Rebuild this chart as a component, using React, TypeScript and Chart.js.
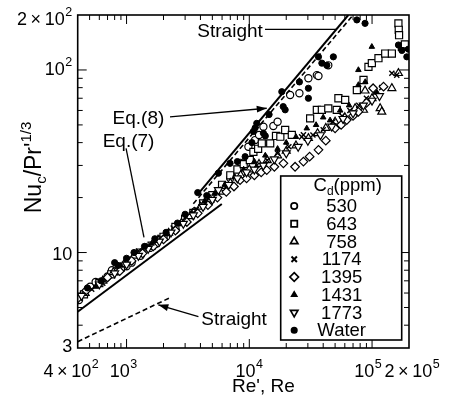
import React, { useEffect, useRef } from 'react';
import { Chart, registerables } from 'chart.js';

Chart.register(...registerables);

type P = [number, number];

// ---- axis ticks ----
const xTickValues = [400, 1000, 10000, 100000, 200000];
const xTickBase = ['4\u2009×\u200910', '10', '10', '10', '2\u2009×\u200910'];
const xTickExp = ['2', '3', '4', '5', '5'];
const yTickValues = [3, 10, 100, 200];
const yTickBase = ['3', '10', '10', '2\u2009×\u200910'];
const yTickExp = ['', '', '2', '2'];
const xMajorMarks = [1000, 10000, 100000];
const xMinorMarks = [500, 600, 700, 800, 900, 2000, 3000, 4000, 5000, 6000, 7000, 8000, 9000,
  20000, 30000, 40000, 50000, 60000, 70000, 80000, 90000];
const yMajorMarks = [10, 100];
const yMinorMarks = [4, 5, 6, 7, 8, 9, 20, 30, 40, 50, 60, 70, 80, 90];

// label placement tweaks (pixels)
const xLabelShift = [-6.7, -3, 0, -4, 3];
const yLabelDrop = [4, 7, 5.5, 10];

// ---- series (Re, Nu_c/Pr'^1/3) ----
const seriesNames = ['530', '643', '758', '1174', '1395', '1431', '1773', 'Water'];

const s530: P[] = [[410, 5.5], [505, 6.5], [560, 6.9], [700, 7.4], [760, 8.0], [850, 7.9], [1000, 8.4], [1100, 8.8],
  [1300, 9.6], [1550, 10.6], [1760, 11.2], [2100, 12.2], [2500, 13.3], [3000, 14.8], [3600, 16.8], [4200, 18.3],
  [5000, 20.2], [6000, 22.8], [7000, 25.5], [8500, 31], [9830, 38], [11150, 41.3], [12000, 44], [13030, 48.9],
  [15700, 49.3], [17000, 52], [21500, 72.9], [25600, 74.5], [30300, 90], [35500, 93.7], [36600, 92.7], [44000, 106]];

const s643: P[] = [[450, 5.9], [600, 6.8], [750, 7.6], [900, 8.3], [1050, 9.0], [1300, 10.0], [1600, 10.9], [2000, 12.2],
  [2500, 13.8], [3000, 15.3], [3500, 16.5], [4200, 18.6], [5000, 20.6], [6000, 23.5], [7000, 26.5], [8000, 28.5],
  [9000, 30.5], [10100, 32.1], [10800, 35.6], [11800, 37], [12640, 39.6], [14800, 39.6], [16500, 43.5], [17900, 43.1],
  [19600, 46.9], [22200, 44.1], [31300, 54.3], [35500, 60.4], [39000, 60.5], [44000, 61.6], [51600, 60.4], [53200, 70],
  [60400, 68.6], [75200, 77.6], [85200, 88.1], [93500, 104], [99600, 109], [112800, 116], [128000, 123], [145000, 123],
  [164000, 180], [165000, 166], [166000, 155], [175000, 134], [185000, 138]];

const s758: P[] = [[460, 6.0], [640, 7.0], [780, 7.8], [950, 8.6], [1150, 9.6], [1400, 10.5], [1800, 11.7], [2200, 12.8],
  [2800, 14.5], [3300, 15.8], [4000, 17.8], [4800, 19.5], [5800, 21.5], [7000, 24], [8500, 26.5], [10000, 28.5],
  [12000, 30.5], [14000, 32], [17000, 34], [20000, 36], [24000, 38.5], [30300, 42.3], [36000, 45], [42000, 48],
  [50000, 52], [60000, 55], [72800, 61.6], [85200, 60.4], [87700, 77], [100000, 70], [116400, 61.6], [120000, 59],
  [145000, 79.4], [164000, 96]];

const s1174: P[] = [[520, 6.3], [640, 6.8], [1000, 9.2], [1250, 10.2], [1500, 10.9], [1900, 12.1], [2400, 13.6],
  [3000, 15.5], [3700, 17.2], [4500, 19.2], [5500, 21.5], [6500, 23], [8000, 25.5], [9500, 27.5], [11500, 30],
  [14000, 32], [17000, 35], [21000, 38], [26700, 43], [27600, 44.1], [33000, 44], [40000, 47], [48000, 52],
  [57000, 56], [66000, 60], [78000, 64], [90000, 70], [105000, 75], [120000, 80], [145000, 96], [159000, 93.7]];

const s1395: P[] = [[400, 5.6], [470, 6.2], [700, 7.3], [880, 7.9], [1100, 9.0], [1350, 9.9], [1650, 10.8], [2000, 11.8],
  [2500, 13.2], [3100, 14.7], [3800, 16.4], [4600, 18.2], [5500, 20], [6500, 21.5], [7500, 23], [8410, 24.9],
  [9500, 25.5], [11000, 26.5], [12500, 27.5], [13870, 28.3], [16000, 29.5], [18960, 30.8], [23600, 29.5], [27600, 31.5],
  [31000, 33.5], [36600, 36.5], [42000, 41], [50000, 47.9], [56000, 50], [62200, 53.2], [70000, 56], [77400, 59],
  [90000, 66], [102000, 79.4], [124000, 81]];

const s1431: P[] = [[560, 6.5], [900, 8.5], [1200, 9.9], [1600, 11.2], [2100, 12.6], [2700, 14.3], [3400, 16.5],
  [4300, 19], [5200, 21], [6300, 23.5], [7600, 26], [9000, 28.5], [11000, 31.5], [13500, 34], [17000, 37], [20000, 40],
  [24000, 43], [29400, 47.9], [35000, 50], [40000, 55], [45500, 53], [55000, 60], [65000, 64], [77400, 100],
  [77400, 82.8], [88000, 86], [99600, 134], [110000, 75]];

const s1773: P[] = [[430, 5.8], [600, 6.7], [800, 7.7], [1000, 8.6], [1250, 9.6], [1500, 10.5], [1850, 11.5],
  [2300, 12.9], [2900, 14.4], [3500, 16], [4200, 17.8], [5000, 19.5], [5600, 22], [6800, 23.5], [8000, 25.5],
  [9500, 27.5], [11000, 28.5], [13000, 30], [16000, 32.5], [20000, 35], [25000, 38], [30000, 41], [38000, 44],
  [47000, 49], [58000, 54], [70000, 58], [85000, 64], [100000, 68], [115000, 72]];

const sWater: P[] = [[480, 6.4], [620, 7.0], [800, 8.8], [850, 8.5], [1000, 9.3], [1150, 10.0], [1400, 10.8],
  [1700, 11.9], [2100, 12.9], [2600, 14.5], [3000, 16.2], [3800, 21.3], [4500, 20.5], [5600, 27.2], [6970, 30.8],
  [8000, 31.5], [9250, 33.5], [10500, 40], [10800, 46], [11150, 48.1], [11500, 51], [13030, 45], [13500, 43.5],
  [14500, 57], [18400, 76], [18900, 63], [19600, 60.5], [25600, 86], [30300, 70], [30300, 79.4], [36600, 118],
  [39000, 109], [42800, 106], [48400, 118], [75200, 188], [87700, 180], [164000, 137], [175000, 128], [192000, 118],
  [198000, 130]];

// ---- correlation lines (end points) ----
const eq7Line: P[] = [[400, 4.74], [5970, 18.45]];
const eq8Line: P[] = [[4000, 21.7], [64100, 200]];
const straightTurbLine: P[] = [[3500, 18.5], [70150, 200]];
const straightLamLine: P[] = [[400, 3.25], [2261, 5.66]];

const seriesData: P[][] = [s530, s643, s758, s1174, s1395, s1431, s1773, sWater];

// marker styles
const markerStyles = [
  { pointStyle: 'circle', radius: 3.6, fill: '#fff', bw: 1.2, rot: 0 },
  { pointStyle: 'rect', radius: 5, fill: '#fff', bw: 1.2, rot: 0 },
  { pointStyle: 'triangle', radius: 4.6, fill: '#fff', bw: 1.2, rot: 0 },
  { pointStyle: 'crossRot', radius: 3.6, fill: '#000', bw: 1.4, rot: 0 },
  { pointStyle: 'rectRot', radius: 4.3, fill: '#fff', bw: 1.2, rot: 0 },
  { pointStyle: 'triangle', radius: 3.2, fill: '#000', bw: 1, rot: 0 },
  { pointStyle: 'triangle', radius: 4.6, fill: '#fff', bw: 1.2, rot: 180 },
  { pointStyle: 'circle', radius: 3.1, fill: '#000', bw: 1, rot: 0 },
];

const FONT = '"Liberation Sans", Arial, Helvetica, sans-serif';

const annotations = [
  { text: 'Straight', at: [6970, 162], from: [13430, 167], to: [51700, 167], head: false },
  { text: 'Eq.(8)', at: [1250, 54.3], from: [2260, 55.4], to: [13870, 61.7], head: true },
  { text: 'Eq.(7)', at: [1038, 40.4], from: [991, 37.2], to: [1387, 12.1], head: false },
  { text: 'Straight', at: [7520, 4.31], from: [3850, 4.46], to: [1815, 5.17], head: true },
];

function drawArrow(ctx: CanvasRenderingContext2D, x1: number, y1: number, x2: number, y2: number, head: boolean) {
  ctx.beginPath();
  ctx.moveTo(x1, y1);
  ctx.lineTo(x2, y2);
  ctx.stroke();
  if (head) {
    const a = Math.atan2(y2 - y1, x2 - x1);
    const L = 10, W = 3.5;
    ctx.beginPath();
    ctx.moveTo(x2, y2);
    ctx.lineTo(x2 - L * Math.cos(a) + W * Math.sin(a), y2 - L * Math.sin(a) - W * Math.cos(a));
    ctx.lineTo(x2 - L * Math.cos(a) - W * Math.sin(a), y2 - L * Math.sin(a) + W * Math.cos(a));
    ctx.closePath();
    ctx.fill();
  }
}

function drawMarker(ctx: CanvasRenderingContext2D, i: number, x: number, y: number) {
  const m = markerStyles[i];
  const r = m.radius;
  ctx.save();
  ctx.lineWidth = 1.7;
  ctx.fillStyle = m.fill;
  ctx.strokeStyle = '#000';
  ctx.beginPath();
  if (m.pointStyle === 'circle') {
    ctx.arc(x, y, r - 0.4, 0, Math.PI * 2);
  } else if (m.pointStyle === 'rect') {
    const s = r * Math.SQRT1_2 - 0.4;
    ctx.rect(x - s, y - s, 2 * s, 2 * s);
  } else if (m.pointStyle === 'triangle') {
    const dir = m.rot === 180 ? -1 : 1;
    const rr = r - 0.3;
    ctx.moveTo(x, y - dir * rr);
    ctx.lineTo(x + rr * 0.866, y + dir * rr * 0.5);
    ctx.lineTo(x - rr * 0.866, y + dir * rr * 0.5);
    ctx.closePath();
  } else if (m.pointStyle === 'rectRot') {
    ctx.moveTo(x, y - r);
    ctx.lineTo(x + r, y);
    ctx.lineTo(x, y + r);
    ctx.lineTo(x - r, y);
    ctx.closePath();
  } else if (m.pointStyle === 'crossRot') {
    const s = r * 0.75;
    ctx.moveTo(x - s, y - s); ctx.lineTo(x + s, y + s);
    ctx.moveTo(x + s, y - s); ctx.lineTo(x - s, y + s);
    ctx.lineWidth = 2;
    ctx.stroke();
    ctx.restore();
    return;
  }
  ctx.fill();
  ctx.stroke();
  ctx.restore();
}

// draws "base" followed by a raised exponent; anchor 'center' or 'right'
function drawPow(ctx: CanvasRenderingContext2D, base: string, exp: string, x: number, baseline: number, anchor: string) {
  const bf = `18px ${FONT}`;
  const sf = `12.5px ${FONT}`;
  ctx.font = bf;
  const wb = ctx.measureText(base).width;
  ctx.font = sf;
  const we = exp ? ctx.measureText(exp).width + 0.5 : 0;
  const total = wb + we;
  const left = anchor === 'right' ? x - total : x - total / 2;
  ctx.textAlign = 'left';
  ctx.textBaseline = 'alphabetic';
  ctx.font = bf;
  ctx.fillText(base, left, baseline);
  if (exp) {
    ctx.font = sf;
    ctx.fillText(exp, left + wb + 0.5, baseline - 9);
  }
}

const decoPlugin = {
  id: 'deco',
  afterDraw(chart: any) {
    const ctx: CanvasRenderingContext2D = chart.ctx;
    const ca = chart.chartArea;
    const xs = chart.scales.x;
    const ys = chart.scales.y;
    const px = (v: number) => xs.getPixelForValue(v);
    const py = (v: number) => ys.getPixelForValue(v);
    ctx.save();
    ctx.strokeStyle = '#000';
    ctx.fillStyle = '#000';

    // frame
    ctx.lineWidth = 1.6;
    ctx.strokeRect(ca.left, ca.top, ca.right - ca.left, ca.bottom - ca.top);

    // inward ticks on all four sides
    ctx.lineWidth = 1;
    const tickX = (v: number, len: number) => {
      const x = px(v);
      ctx.beginPath();
      ctx.moveTo(x, ca.bottom); ctx.lineTo(x, ca.bottom - len);
      ctx.moveTo(x, ca.top); ctx.lineTo(x, ca.top + len);
      ctx.stroke();
    };
    const tickY = (v: number, len: number) => {
      const y = py(v);
      ctx.beginPath();
      ctx.moveTo(ca.left, y); ctx.lineTo(ca.left + len, y);
      ctx.moveTo(ca.right, y); ctx.lineTo(ca.right - len, y);
      ctx.stroke();
    };
    xMajorMarks.forEach((v) => tickX(v, 9));
    xMinorMarks.forEach((v) => tickX(v, 5));
    yMajorMarks.forEach((v) => tickY(v, 9));
    yMinorMarks.forEach((v) => tickY(v, 5));

    // tick labels with real superscripts
    xTickValues.forEach((v, i) => {
      drawPow(ctx, xTickBase[i], xTickExp[i], px(v) + xLabelShift[i], ca.bottom + 29, 'center');
    });
    yTickValues.forEach((v, i) => {
      drawPow(ctx, yTickBase[i], yTickExp[i], ca.left - 5.5, py(v) + yLabelDrop[i], 'right');
    });

    // annotations
    ctx.font = `19px ${FONT}`;
    ctx.textAlign = 'center';
    ctx.textBaseline = 'middle';
    ctx.lineWidth = 1.3;
    annotations.forEach((a) => {
      ctx.fillText(a.text, px(a.at[0]), py(a.at[1]));
      drawArrow(ctx, px(a.from[0]), py(a.from[1]), px(a.to[0]), py(a.to[1]), a.head);
    });

    // legend box
    const bx = ca.left + 203;
    const by = ca.top + 161;
    const bw = 121;
    const bh = 164;
    ctx.fillStyle = '#fff';
    ctx.fillRect(bx, by, bw, bh);
    ctx.fillStyle = '#000';
    ctx.lineWidth = 1.6;
    ctx.strokeRect(bx, by, bw, bh);

    // legend title C_d(ppm)
    ctx.textBaseline = 'alphabetic';
    ctx.textAlign = 'left';
    const big = `18.5px ${FONT}`;
    const small = `12px ${FONT}`;
    ctx.font = big;
    const wC = ctx.measureText('C').width;
    const wP = ctx.measureText('(ppm)').width;
    ctx.font = small;
    const wd = ctx.measureText('d').width;
    const tw = wC + wd + wP;
    let tx = bx + 67 - tw / 2;
    const tb = by + 15;
    ctx.font = big;
    ctx.fillText('C', tx, tb);
    tx += wC;
    ctx.font = small;
    ctx.fillText('d', tx, tb + 4);
    tx += wd;
    ctx.font = big;
    ctx.fillText('(ppm)', tx, tb);

    // legend rows
    ctx.textAlign = 'center';
    ctx.textBaseline = 'middle';
    seriesNames.forEach((name, i) => {
      const ry = by + 30 + i * 17.75;
      drawMarker(ctx, i, bx + 13.5, ry);
      ctx.fillStyle = '#000';
      ctx.font = big;
      ctx.fillText(name, bx + 61, ry + 1);
    });

    // y title: Nu_c/Pr'^{1/3}
    ctx.save();
    const cy = (ca.top + ca.bottom) / 2 - 14;
    ctx.translate(41, cy);
    ctx.rotate(-Math.PI / 2);
    ctx.textAlign = 'left';
    ctx.textBaseline = 'alphabetic';
    const yBig = `23px ${FONT}`;
    const ySmall = `15px ${FONT}`;
    const parts: [string, string, number][] = [
      ['Nu', yBig, 0], ['c', ySmall, 5], ['/Pr\'', yBig, 0], ['1/3', ySmall, -10],
    ];
    let total = 0;
    parts.forEach(([t, f]) => { ctx.font = f; total += ctx.measureText(t).width; });
    let cx = -total / 2;
    parts.forEach(([t, f, dy]) => {
      ctx.font = f;
      ctx.fillText(t, cx, dy);
      cx += ctx.measureText(t).width;
    });
    ctx.restore();

    // x title
    ctx.font = `19px ${FONT}`;
    ctx.textAlign = 'center';
    ctx.textBaseline = 'alphabetic';
    ctx.fillText("Re', Re", (ca.left + ca.right) / 2 + 20, 392);

    ctx.restore();
  },
};

export default function App() {
  const ref = useRef<HTMLCanvasElement>(null);
  useEffect(() => {
    const canvas = ref.current;
    if (!canvas) return;
    const pointSets = seriesData.map((d, i) => {
      const m = markerStyles[i];
      return {
        label: seriesNames[i],
        data: d.map(([x, y]) => ({ x, y })),
        showLine: false,
        pointStyle: m.pointStyle,
        pointRadius: m.radius,
        pointRotation: m.rot,
        pointBackgroundColor: m.fill,
        pointBorderColor: '#000',
        pointBorderWidth: m.bw,
        pointHoverRadius: m.radius,
      };
    });
    const lineSet = (d: P[], dash: number[], w: number) => ({
      label: '',
      data: d.map(([x, y]) => ({ x, y })),
      showLine: true,
      borderColor: '#000',
      borderWidth: w,
      borderDash: dash,
      pointRadius: 0,
      fill: false,
    });
    const chart = new Chart(canvas, {
      type: 'scatter',
      data: {
        datasets: [
          lineSet(eq7Line, [], 2),
          lineSet(eq8Line, [], 2),
          lineSet(straightTurbLine, [5, 3], 1.6),
          lineSet(straightLamLine, [5, 3], 1.6),
          ...pointSets.reverse(),
        ] as any,
      },
      options: {
        animation: false,
        responsive: false,
        devicePixelRatio: 1,
        layout: { padding: { top: 15, right: 46, left: 0, bottom: 0 } },
        plugins: { legend: { display: false }, tooltip: { enabled: false } },
        scales: {
          x: {
            type: 'logarithmic',
            min: 400,
            max: 200000,
            afterBuildTicks: (s: any) => { s.ticks = xTickValues.map((v) => ({ value: v })); },
            afterFit: (s: any) => { s.height = 55; s.paddingLeft = 0; s.paddingRight = 0; },
            ticks: { display: false },
            grid: { display: false, drawTicks: false, drawOnChartArea: false },
            border: { display: false },
          },
          y: {
            type: 'logarithmic',
            min: 3,
            max: 200,
            afterBuildTicks: (s: any) => { s.ticks = yTickValues.map((v) => ({ value: v })); },
            afterFit: (s: any) => { s.width = 77.7; s.paddingTop = 0; s.paddingBottom = 0; },
            ticks: { display: false },
            grid: { display: false, drawTicks: false, drawOnChartArea: false },
            border: { display: false },
          },
        },
      } as any,
      plugins: [decoPlugin],
    });
    return () => chart.destroy();
  }, []);
  return (
    <div style={{ position: 'fixed', left: 0, top: 0, width: 455, height: 403, background: '#fff' }}>
      <canvas ref={ref} width={455} height={403} style={{ display: 'block', width: 455, height: 403 }} />
    </div>
  );
}
